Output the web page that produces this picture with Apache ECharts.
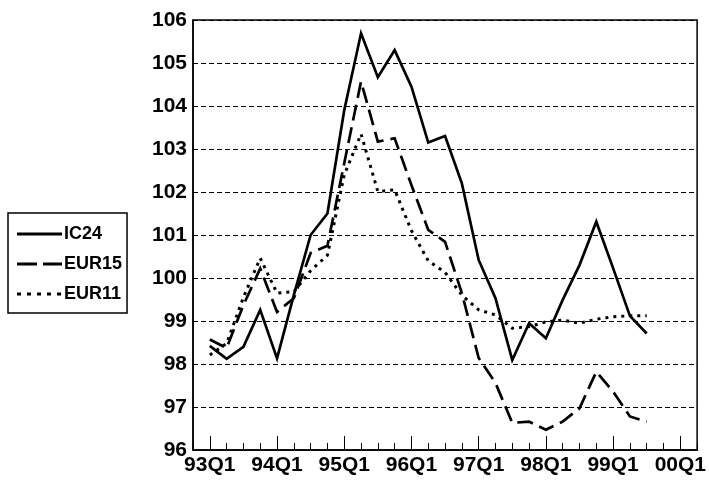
<!DOCTYPE html>
<html><head><meta charset="utf-8">
<script src="https://cdn.jsdelivr.net/npm/echarts@6/dist/echarts.min.js"></script>
<style>html,body{margin:0;padding:0;background:#fff}#c{width:709px;height:485px}</style>
</head><body><div id="c"></div>
<script>
var categories = ['92Q4',
  '93Q1','93Q2','93Q3','93Q4','94Q1','94Q2','94Q3','94Q4',
  '95Q1','95Q2','95Q3','95Q4','96Q1','96Q2','96Q3','96Q4',
  '97Q1','97Q2','97Q3','97Q4','98Q1','98Q2','98Q3','98Q4',
  '99Q1','99Q2','99Q3','99Q4','00Q1','00Q2'];
var ic24  = [null, 98.42,98.12,98.40,99.26,98.13,99.6,101.0,101.5,103.9,105.69,104.67,105.30,104.45,103.15,103.30,102.2,100.42,99.53,98.09,98.95,98.60,99.49,100.30,101.31,100.23,99.12,98.71];
var eur15 = [null, 98.57,98.37,99.37,100.22,99.21,99.53,100.58,100.75,102.67,104.57,103.17,103.25,102.16,101.12,100.84,99.65,98.14,97.56,96.63,96.66,96.47,96.66,96.97,97.82,97.36,96.78,96.66];
var eur11 = [null, 98.21,98.48,99.55,100.46,99.65,99.68,100.17,100.53,102.4,103.35,102.01,102.05,101.1,100.40,100.13,99.60,99.26,99.14,98.83,98.87,98.98,99.02,98.95,99.04,99.10,99.12,99.12];

var FONT = "'Liberation Sans Narrow','Arial Narrow','Liberation Sans',Arial,sans-serif";
var chart = echarts.init(document.getElementById('c'), null, {renderer:'canvas'});
function mk(name, data, type, width) {
  return {name:name, type:'line', data:data, showSymbol:false, symbol:'none', connectNulls:false,
    lineStyle:{color:'#000', width:width, type:type, cap:'butt', join:'miter'},
    itemStyle:{color:'#000'}, animation:false, z:5};
}
chart.setOption({
  animation:false,
  backgroundColor:'#fff',
  grid:{left:193, right:7, top:20, bottom:35, show:true, borderColor:'#000', borderWidth:1.5},
  legend:{orient:'vertical', left:8, top:213,
    padding:[12,5,10,9], itemGap:12, itemWidth:45, itemHeight:3,
    borderColor:'#000', borderWidth:1.5,
    itemStyle:{color:'#000', borderWidth:0}, lineStyle:{width:0},
    textStyle:{fontFamily:FONT, fontWeight:'bold', fontSize:18, color:'#000', padding:[0,0,0,-3]},
    data:[
      {name:'IC24', icon:'path://M0,0H45V3H0Z'},
      {name:'EUR15', icon:'path://M0,0H20V3H0Z M26,0H45V3H26Z'},
      {name:'EUR11', icon:'path://M0,0H4V3H0Z M10,0H14V3H10Z M20,0H24V3H20Z M30,0H34V3H30Z M40,0H44V3H40Z M44.9,0H45V3H44.9Z'}
    ]},
  xAxis:[{type:'category', data:categories, boundaryGap:false,
    axisLine:{show:true, lineStyle:{color:'#000', width:1.5}},
    axisTick:{show:true, inside:true, length:7, interval:0, lineStyle:{color:'#000', width:1}},
    axisLabel:{interval:function(i,v){return /Q1$/.test(v);}, fontFamily:FONT, fontWeight:'bold', fontSize:21, color:'#000', margin:5},
    splitLine:{show:false}},
   {type:'category', data:categories, boundaryGap:false, position:'bottom',
    axisLine:{show:false},
    axisTick:{show:true, inside:true, length:14, interval:function(i,v){return /Q1$/.test(v);}, lineStyle:{color:'#000', width:1}},
    axisLabel:{show:false}, splitLine:{show:false}}],
  yAxis:{type:'value', min:96, max:106, interval:1,
    axisLine:{show:true, lineStyle:{color:'#000', width:1.5}},
    axisTick:{show:false},
    axisLabel:{fontFamily:FONT, fontWeight:'bold', fontSize:21, color:'#000', margin:6},
    splitLine:{show:true, lineStyle:{color:'#000', width:1, type:[5,3]}}},
  series:[
    mk('IC24', ic24, 'solid', 2.7),
    mk('EUR15', eur15, [16,7], 2.7),
    mk('EUR11', eur11, [3,5], 3)
  ]
});
</script></body></html>
